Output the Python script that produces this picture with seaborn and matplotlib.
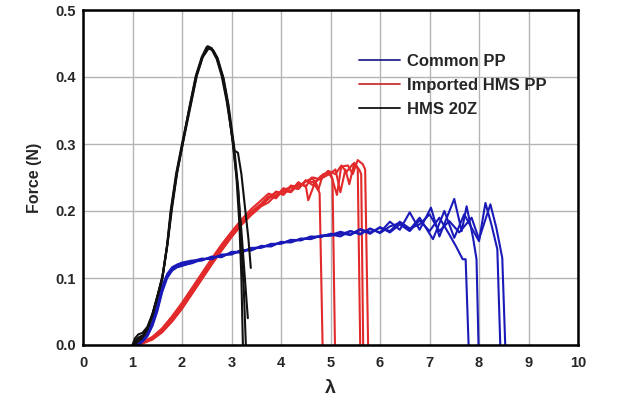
import numpy as np
import pandas as pd
import matplotlib
matplotlib.use("Agg")
import matplotlib.pyplot as plt
from matplotlib.lines import Line2D
import seaborn as sns

# ---------------- data ----------------
series_names = ["Common PP", "Imported HMS PP", "HMS 20Z"]

# Common PP replicates
common_x1 = [1.10,1.20,1.30,1.40,1.50,1.60,1.70,1.80,1.90,2.00,2.2,2.4,2.6,2.8,3.0,3.2,3.4,3.6,3.8,4.0,4.2,4.4,4.6,4.8,5.0,5.2,5.4,5.6,5.8,6.0,6.2,6.4,6.6,6.8,7.0,7.2,7.4,7.53,7.67,7.73,7.79]
common_y1 = [0.000,0.005,0.014,0.030,0.053,0.082,0.102,0.112,0.117,0.119,0.122,0.128,0.129,0.134,0.136,0.141,0.142,0.147,0.148,0.153,0.154,0.158,0.159,0.163,0.163,0.167,0.164,0.172,0.166,0.176,0.168,0.180,0.170,0.186,0.170,0.190,0.165,0.148,0.128,0.128,0.000]
common_x2 = [1.10,1.20,1.30,1.40,1.50,1.60,1.70,1.80,1.90,2.00,2.2,2.4,2.6,2.8,3.0,3.2,3.4,3.6,3.8,4.0,4.2,4.4,4.6,4.8,5.0,5.2,5.4,5.6,5.8,6.0,6.2,6.4,6.6,6.8,7.03,7.2,7.5,7.65,7.75,7.88,7.95,7.99]
common_y2 = [0.000,0.007,0.017,0.034,0.059,0.088,0.106,0.116,0.120,0.123,0.126,0.126,0.132,0.131,0.139,0.139,0.145,0.145,0.151,0.151,0.157,0.156,0.162,0.161,0.166,0.165,0.170,0.166,0.173,0.168,0.184,0.172,0.198,0.172,0.205,0.162,0.218,0.170,0.207,0.160,0.128,0.000]
common_x3 = [1.10,1.20,1.30,1.40,1.50,1.60,1.70,1.80,1.90,2.00,2.2,2.4,2.6,2.8,3.0,3.2,3.4,3.6,3.8,4.0,4.2,4.4,4.6,4.8,5.0,5.2,5.4,5.6,5.8,6.0,6.2,6.4,6.6,6.8,7.07,7.3,7.5,7.7,8.0,8.13,8.25,8.37,8.43]
common_y3 = [0.000,0.006,0.015,0.031,0.056,0.085,0.104,0.114,0.118,0.121,0.125,0.129,0.128,0.135,0.135,0.142,0.141,0.148,0.147,0.154,0.153,0.159,0.158,0.163,0.165,0.162,0.170,0.165,0.174,0.167,0.177,0.182,0.172,0.190,0.158,0.200,0.160,0.195,0.155,0.212,0.180,0.143,0.000]
common_x4 = [1.10,1.20,1.30,1.40,1.50,1.60,1.70,1.80,1.90,2.00,2.2,2.4,2.6,2.8,3.0,3.2,3.4,3.6,3.8,4.0,4.2,4.4,4.6,4.8,5.0,5.2,5.4,5.6,5.8,6.0,6.2,6.4,6.6,6.8,7.0,7.2,7.4,7.6,7.85,8.0,8.23,8.35,8.47,8.53]
common_y4 = [0.000,0.005,0.013,0.028,0.050,0.079,0.100,0.111,0.116,0.118,0.123,0.127,0.131,0.132,0.138,0.138,0.144,0.146,0.150,0.152,0.156,0.157,0.161,0.162,0.164,0.169,0.165,0.173,0.168,0.175,0.170,0.184,0.174,0.180,0.195,0.170,0.185,0.168,0.190,0.158,0.210,0.175,0.130,0.000]

# Imported HMS PP replicates
imported_x1 = [1.10,1.20,1.40,1.60,1.80,2.00,2.20,2.40,2.60,2.80,3.00,3.20,3.40,3.60,3.75,3.90,4.05,4.20,4.35,4.50,4.62,4.72,4.78,4.84]
imported_y1 = [0.000,0.004,0.012,0.025,0.043,0.063,0.085,0.107,0.129,0.150,0.169,0.187,0.203,0.216,0.226,0.222,0.234,0.230,0.243,0.236,0.250,0.240,0.226,0.000]
imported_x2 = [1.10,1.20,1.40,1.60,1.80,2.00,2.20,2.40,2.60,2.80,3.00,3.20,3.40,3.60,3.75,3.90,4.05,4.20,4.35,4.50,4.65,4.80,4.95,5.04,5.09]
imported_y2 = [0.000,0.003,0.009,0.020,0.036,0.055,0.077,0.099,0.121,0.142,0.162,0.180,0.196,0.208,0.220,0.228,0.224,0.237,0.233,0.246,0.238,0.252,0.258,0.248,0.000]
imported_x3 = [1.10,1.20,1.40,1.60,1.80,2.00,2.20,2.40,2.60,2.80,3.00,3.20,3.40,3.60,3.75,3.90,4.05,4.20,4.35,4.50,4.55,4.70,4.85,5.00,5.10,5.20,5.30,5.38,5.48,5.55,5.60]
imported_y3 = [0.000,0.002,0.008,0.019,0.035,0.054,0.076,0.098,0.120,0.141,0.161,0.179,0.194,0.207,0.213,0.224,0.230,0.228,0.240,0.238,0.216,0.245,0.250,0.256,0.262,0.228,0.262,0.240,0.272,0.265,0.000]
imported_x4 = [1.10,1.20,1.40,1.60,1.80,2.00,2.20,2.40,2.60,2.80,3.00,3.20,3.40,3.60,3.75,3.90,4.05,4.20,4.35,4.50,4.65,4.75,4.85,5.00,5.13,5.22,5.32,5.45,5.58,5.62,5.66]
imported_y4 = [0.000,0.004,0.011,0.023,0.040,0.060,0.082,0.104,0.126,0.147,0.166,0.183,0.199,0.211,0.222,0.219,0.232,0.235,0.233,0.245,0.243,0.231,0.255,0.257,0.224,0.268,0.258,0.270,0.262,0.255,0.000]
imported_x5 = [1.10,1.20,1.40,1.60,1.80,2.00,2.20,2.40,2.60,2.80,3.00,3.20,3.40,3.60,3.75,3.90,4.05,4.20,4.35,4.50,4.65,4.80,4.95,5.10,5.20,5.35,5.45,5.55,5.65,5.70,5.76]
imported_y5 = [0.000,0.003,0.010,0.021,0.037,0.057,0.079,0.101,0.123,0.144,0.163,0.181,0.197,0.209,0.218,0.229,0.226,0.238,0.236,0.244,0.250,0.247,0.260,0.255,0.266,0.268,0.255,0.276,0.270,0.262,0.000]

# HMS 20Z replicates
hms_x1 = [1.00,1.05,1.12,1.20,1.30,1.40,1.50,1.60,1.70,1.77,1.88,2.00,2.14,2.28,2.40,2.52,2.60,2.70,2.82,2.92,3.03,3.10,3.16,3.20,3.23]
hms_y1 = [0.000,0.010,0.016,0.018,0.027,0.046,0.072,0.100,0.150,0.200,0.255,0.300,0.350,0.400,0.428,0.446,0.443,0.430,0.400,0.360,0.300,0.250,0.180,0.100,0.000]
hms_x2 = [1.00,1.08,1.15,1.22,1.30,1.40,1.50,1.60,1.70,1.78,1.90,2.02,2.16,2.30,2.42,2.55,2.63,2.72,2.84,2.94,3.05,3.14,3.20,3.25,3.29]
hms_y2 = [0.000,0.006,0.010,0.014,0.024,0.043,0.070,0.098,0.147,0.200,0.258,0.302,0.352,0.402,0.430,0.444,0.440,0.428,0.398,0.358,0.298,0.230,0.150,0.080,0.000]
hms_x3 = [1.02,1.10,1.18,1.26,1.34,1.42,1.52,1.62,1.72,1.80,1.90,2.02,2.15,2.28,2.40,2.50,2.60,2.70,2.80,2.90,3.00,3.06,3.13,3.20,3.28,3.34,3.39]
hms_y3 = [0.000,0.004,0.009,0.017,0.030,0.050,0.078,0.108,0.158,0.205,0.256,0.303,0.355,0.402,0.430,0.445,0.441,0.427,0.402,0.365,0.318,0.290,0.287,0.255,0.200,0.160,0.115]
hms_x4 = [1.00,1.07,1.14,1.22,1.30,1.40,1.50,1.60,1.70,1.78,1.89,2.01,2.15,2.29,2.41,2.53,2.62,2.71,2.83,2.93,3.03,3.12,3.20,3.27,3.33]
hms_y4 = [0.000,0.008,0.012,0.015,0.025,0.044,0.071,0.099,0.148,0.200,0.256,0.301,0.351,0.401,0.429,0.443,0.440,0.428,0.399,0.359,0.300,0.240,0.170,0.100,0.040]

x_ticks = [0, 1, 2, 3, 4, 5, 6, 7, 8, 9, 10]
y_ticks = [0.0, 0.1, 0.2, 0.3, 0.4, 0.5]

# ---------------- build long-form table ----------------
groups = {
    "Common PP": [(common_x1, common_y1), (common_x2, common_y2), (common_x3, common_y3), (common_x4, common_y4)],
    "Imported HMS PP": [(imported_x1, imported_y1), (imported_x2, imported_y2), (imported_x3, imported_y3),
                        (imported_x4, imported_y4), (imported_x5, imported_y5)],
    "HMS 20Z": [(hms_x1, hms_y1), (hms_x2, hms_y2), (hms_x3, hms_y3), (hms_x4, hms_y4)],
}
rows = []
for name, reps in groups.items():
    for i, (xs, ys) in enumerate(reps):
        for k, (xv, yv) in enumerate(zip(xs, ys)):
            rows.append({"series": name, "rep": f"{name}-{i}", "order": k, "lam": xv, "force": yv})
df = pd.DataFrame(rows)

# ---------------- plot ----------------
sns.set_theme(style="white")
plt.rcParams["font.family"] = ["Liberation Sans", "DejaVu Sans"]

line_colors = {"Common PP": "#1a1ab8", "Imported HMS PP": "#e22a2a", "HMS 20Z": "#111111"}
legend_colors = {"Common PP": "#24248c", "Imported HMS PP": "#cc3333", "HMS 20Z": "#111111"}

fig = plt.figure(figsize=(6.4, 4.07), dpi=100)
ax = fig.add_axes([83 / 640, 1 - 345 / 407, 495 / 640, 335 / 407])

for name in ["Imported HMS PP", "Common PP", "HMS 20Z"]:
    sub = df[df["series"] == name]
    sns.lineplot(data=sub, x="lam", y="force", units="rep", estimator=None, sort=False,
                 color=line_colors[name], linewidth=1.5, ax=ax, legend=False)

ax.set_xlim(0, 10)
ax.set_ylim(0, 0.5)
ax.set_xticks(x_ticks)
ax.set_yticks(y_ticks)
ax.set_xticklabels([str(t) for t in x_ticks], fontweight="bold", fontsize=10.5)
ax.set_yticklabels([f"{t:.1f}" for t in y_ticks], fontweight="bold", fontsize=10.5)
ax.grid(True, color="#b4b4b4", linewidth=1.0)
ax.set_axisbelow(True)
for s in ax.spines.values():
    s.set_color("black")
    s.set_linewidth(1.8)
    s.set_visible(True)
ax.tick_params(axis="both", direction="out", length=3, width=1.2, color="black")
ax.tick_params(axis="x", pad=5)
ax.tick_params(axis="y", pad=2)

ax.set_xlabel("λ", fontsize=14, fontweight="bold", labelpad=7)
ax.set_ylabel("Force (N)", fontsize=11.5, fontweight="bold", labelpad=10)

handles = [Line2D([0], [0], color=legend_colors[n], linewidth=1.3) for n in series_names]
leg = ax.legend(handles, series_names, loc="upper left", bbox_to_anchor=(0.545, 0.89),
                frameon=False, fontsize=12, handlelength=2.45, handletextpad=0.38,
                labelspacing=0.55, borderaxespad=0)
for t in leg.get_texts():
    t.set_fontweight("bold")

fig.savefig("out.png", dpi=100)
